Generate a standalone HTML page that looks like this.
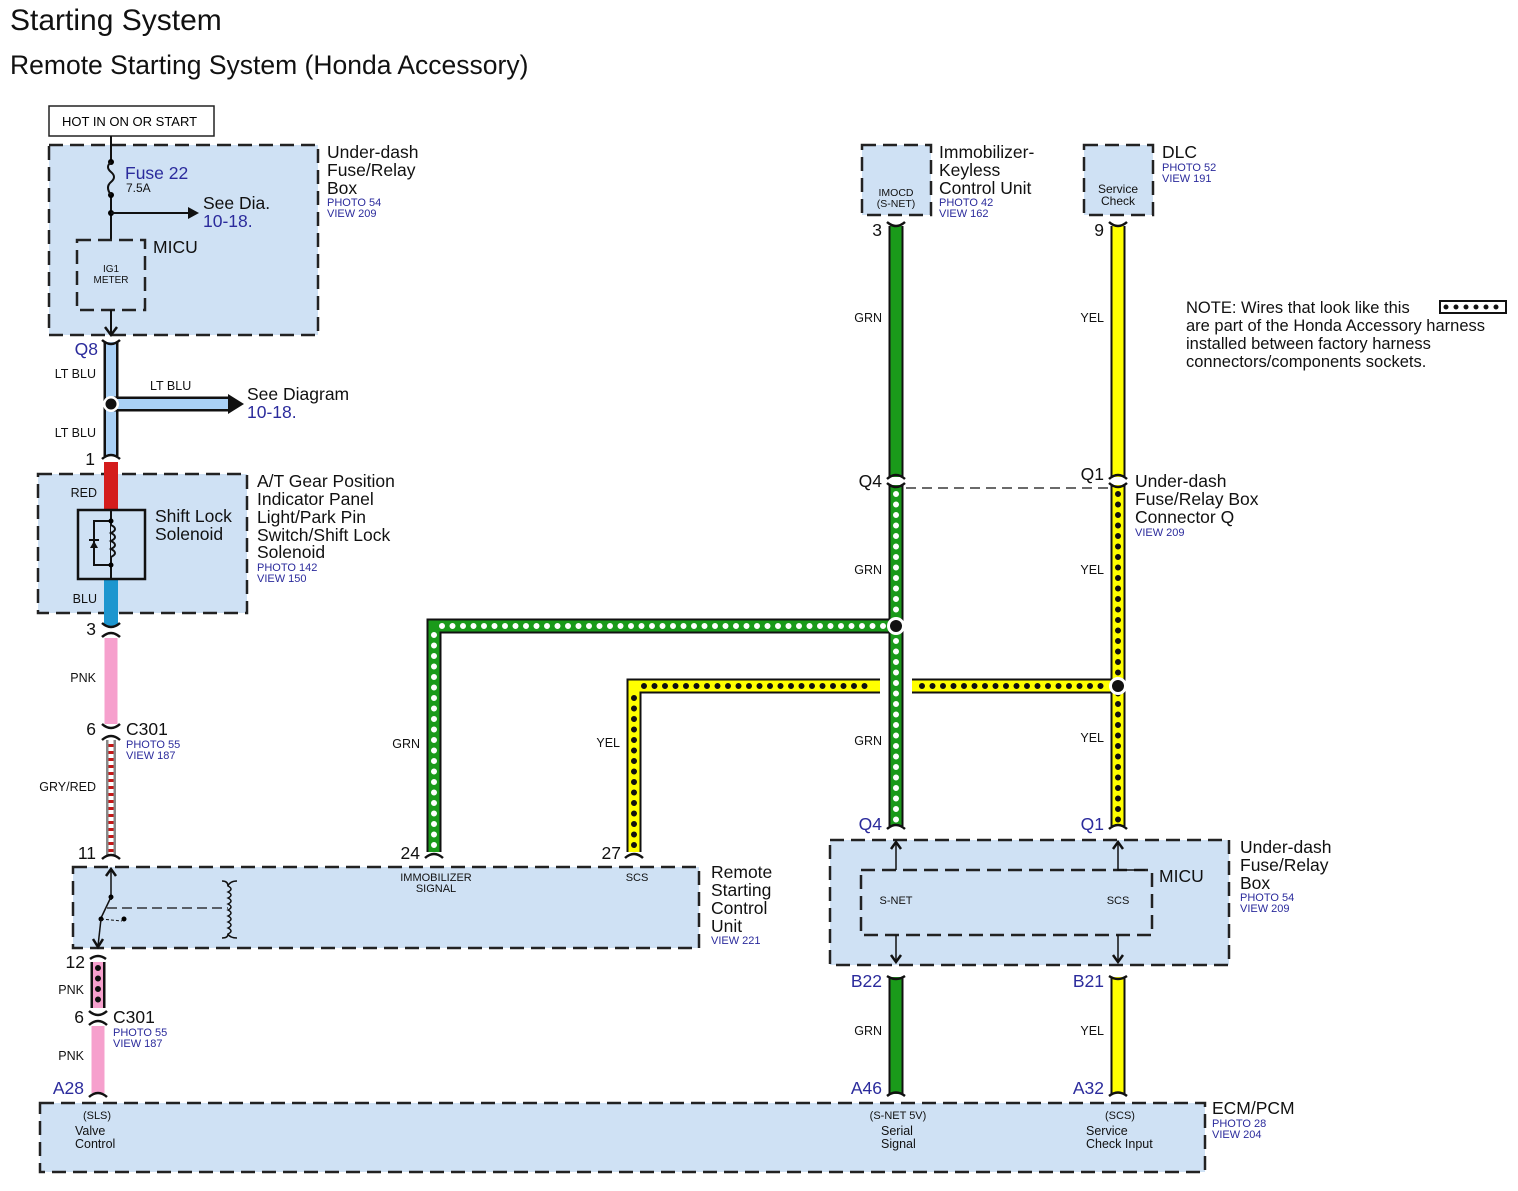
<!DOCTYPE html>
<html><head><meta charset="utf-8"><style>
body{margin:0;background:#fff}
svg{display:block;font-family:"Liberation Sans",sans-serif}
.t{font-size:17.5px;fill:#111}
.s{font-size:11px;fill:#2b2b9c}
.w{font-size:12.5px;fill:#111}
.p{font-size:11px;fill:#111}
.n{font-size:17.5px;fill:#2b2b9c}
.bx{fill:#cfe1f4;stroke:#222;stroke-width:2.5;stroke-dasharray:14 7}
.ib{fill:none;stroke:#222;stroke-width:2.5;stroke-dasharray:14 7}
.k{stroke:#111;stroke-width:15;fill:none}
.wd{stroke-width:6;stroke-dasharray:0 10.5;stroke-linecap:round;fill:none}
.c{fill:none;stroke:#111;stroke-width:2.5}
</style></head><body>
<svg width="1518" height="1191" viewBox="0 0 1518 1191">
<text x="10" y="30" style="font-size:30px" fill="#111">Starting System</text>
<text x="10" y="74" style="font-size:26.5px" fill="#111">Remote Starting System (Honda Accessory)</text>

<rect x="49" y="106" width="165" height="30" fill="#fff" stroke="#222" stroke-width="1.5"/>
<text x="62" y="126" style="font-size:13px">HOT IN ON OR START</text>

<rect class="bx" x="49" y="145" width="269" height="190"/>
<line x1="111" y1="136" x2="111" y2="240" stroke="#111" stroke-width="2"/>
<rect x="100" y="162" width="22" height="32" fill="#cfe1f4"/>
<circle cx="111" cy="162" r="3"/><circle cx="111" cy="195" r="3"/><circle cx="111" cy="213" r="3"/>
<path d="M111 162 q-6 5 0 10 q6 5 0 10 q-6 5 0 13" fill="none" stroke="#111" stroke-width="2"/>
<line x1="111" y1="213" x2="188" y2="213" stroke="#111" stroke-width="2"/>
<polygon points="188,207 199,213 188,219" fill="#111"/>
<text x="125" y="179" class="n">Fuse 22</text>
<text x="126" y="192" style="font-size:12px" fill="#111">7.5A</text>
<text x="203" y="209" class="t">See Dia.</text>
<text x="203" y="227" class="n">10-18.</text>
<rect class="ib" x="77" y="240" width="68" height="70"/>
<text x="153" y="253" class="t">MICU</text>
<text x="111" y="272" class="p" text-anchor="middle" style="font-size:10px">IG1</text>
<text x="111" y="283" class="p" text-anchor="middle" style="font-size:10px">METER</text>
<line x1="111" y1="310" x2="111" y2="335" stroke="#111" stroke-width="2"/>
<path d="M105 327 L111 335 L117 327" class="c" stroke-width="1.5"/>
<text x="327" y="158" class="t">Under-dash</text>
<text x="327" y="176" class="t">Fuse/Relay</text>
<text x="327" y="194" class="t">Box</text>
<text x="327" y="206" class="s">PHOTO 54</text>
<text x="327" y="217" class="s">VIEW 209</text>

<line class="k" x1="111" y1="342" x2="111" y2="456"/>
<line x1="111" y1="342" x2="111" y2="456" stroke="#a9d0f5" stroke-width="10"/>
<line class="k" x1="111" y1="404" x2="230" y2="404"/>
<line x1="111" y1="404" x2="230" y2="404" stroke="#a9d0f5" stroke-width="10"/>
<polygon points="228,394 244,404 228,414" fill="#111"/>
<circle cx="111" cy="404" r="8" fill="#fff"/><circle cx="111" cy="404" r="5.5" fill="#111"/>
<path class="c" d="M102 340 Q111 348 120 340"/>
<path class="c" d="M102 459 Q111 451 120 459"/>
<text x="98" y="355" class="n" text-anchor="end">Q8</text>
<text x="96" y="378" class="w" text-anchor="end">LT BLU</text>
<text x="150" y="390" class="w">LT BLU</text>
<text x="96" y="437" class="w" text-anchor="end">LT BLU</text>
<text x="247" y="400" class="t">See Diagram</text>
<text x="247" y="418" class="n">10-18.</text>
<text x="95" y="465" class="t" text-anchor="end">1</text>

<rect class="bx" x="38" y="474" width="209" height="139"/>
<line x1="111" y1="462" x2="111" y2="512" stroke="#d41c1c" stroke-width="14"/>
<line x1="111" y1="578" x2="111" y2="626" stroke="#1d96cf" stroke-width="14"/>
<rect x="78" y="510" width="67" height="69" fill="#cfe1f4" stroke="#111" stroke-width="2.5"/>
<line x1="111" y1="510" x2="111" y2="579" stroke="#111" stroke-width="2"/>
<rect x="94" y="521" width="17" height="44" fill="none" stroke="#111" stroke-width="2"/>
<path d="M111 525 q8 4 0 8 q8 4 0 8 q8 4 0 8 q8 4 0 8" fill="#cfe1f4" stroke="#111" stroke-width="2"/>
<polygon points="90,548 98,548 94,541" fill="#111"/><line x1="89" y1="540" x2="99" y2="540" stroke="#111" stroke-width="2"/>
<circle cx="111" cy="521" r="2.5"/><circle cx="111" cy="565" r="2.5"/>
<text x="155" y="522" class="t">Shift Lock</text>
<text x="155" y="540" class="t">Solenoid</text>
<text x="97" y="497" class="w" text-anchor="end">RED</text>
<text x="97" y="603" class="w" text-anchor="end">BLU</text>
<text x="257" y="487" class="t">A/T Gear Position</text>
<text x="257" y="505" class="t">Indicator Panel</text>
<text x="257" y="523" class="t">Light/Park Pin</text>
<text x="257" y="541" class="t">Switch/Shift Lock</text>
<text x="257" y="558" class="t">Solenoid</text>
<text x="257" y="571" class="s">PHOTO 142</text>
<text x="257" y="582" class="s">VIEW 150</text>

<path class="c" d="M102 623 Q111 631 120 623"/>
<path class="c" d="M102 637 Q111 629 120 637"/>
<text x="96" y="635" class="t" text-anchor="end">3</text>
<line x1="111" y1="638" x2="111" y2="724" stroke="#f6a0cd" stroke-width="13"/>
<text x="96" y="682" class="w" text-anchor="end">PNK</text>
<path class="c" d="M102 724 Q111 732 120 724"/>
<path class="c" d="M102 740 Q111 732 120 740"/>
<text x="96" y="735" class="t" text-anchor="end">6</text>
<text x="126" y="735" class="t">C301</text>
<text x="126" y="748" class="s">PHOTO 55</text>
<text x="126" y="759" class="s">VIEW 187</text>
<line x1="111" y1="740" x2="111" y2="855" stroke="#888" stroke-width="10"/>
<line x1="111" y1="740" x2="111" y2="855" stroke="#fff" stroke-width="5"/>
<line x1="111" y1="744" x2="111" y2="855" stroke="#c41818" stroke-width="5" stroke-dasharray="3 4"/>
<text x="96" y="791" class="w" text-anchor="end">GRY/RED</text>
<path class="c" d="M102 859 Q111 851 120 859"/>
<text x="96" y="859" class="t" text-anchor="end">11</text>

<rect class="bx" x="73" y="867" width="626" height="81"/>
<line x1="111" y1="868" x2="111" y2="900" stroke="#111" stroke-width="1.5"/>
<path d="M106 876 L111 869 L116 876" class="c" stroke-width="1.5"/>
<circle cx="111" cy="897" r="2.5"/>
<line x1="111" y1="897" x2="101" y2="918" stroke="#111" stroke-width="1.5"/>
<circle cx="101" cy="919" r="2.5"/><circle cx="124" cy="919" r="2.5"/>
<line x1="101" y1="919" x2="122" y2="921" stroke="#111" stroke-width="1" stroke-dasharray="3 2"/>
<line x1="101" y1="919" x2="98" y2="946" stroke="#111" stroke-width="1.5"/>
<path d="M93 939 L98 947 L103 939" class="c" stroke-width="1.5"/>
<line x1="107" y1="908" x2="228" y2="908" stroke="#111" stroke-width="1.2" stroke-dasharray="10 5"/>
<path d="M222 881 Q228 881 228 886 q6 3 0 6 q6 3 0 6 q6 3 0 6 q6 3 0 6 q6 3 0 6 q6 3 0 6 q6 3 0 6 q6 3 0 6 Q228 938 222 938" fill="none" stroke="#111" stroke-width="1.5"/>
<path d="M228 886 Q230 881 237 881 M228 934 Q230 938 237 938" fill="none" stroke="#111" stroke-width="1.5"/>
<text x="436" y="881" class="p" text-anchor="middle">IMMOBILIZER</text>
<text x="436" y="892" class="p" text-anchor="middle">SIGNAL</text>
<text x="637" y="881" class="p" text-anchor="middle">SCS</text>
<text x="711" y="878" class="t">Remote</text>
<text x="711" y="896" class="t">Starting</text>
<text x="711" y="914" class="t">Control</text>
<text x="711" y="932" class="t">Unit</text>
<text x="711" y="944" class="s">VIEW 221</text>

<path class="c" d="M90 959 Q98 953 106 959"/>
<text x="85" y="968" class="t" text-anchor="end">12</text>
<line class="k" x1="98" y1="962" x2="98" y2="1008" stroke-width="14"/>
<line x1="98" y1="962" x2="98" y2="1008" stroke="#f6a0cd" stroke-width="10"/>
<line x1="98" y1="968" x2="98" y2="1008" class="wd" stroke="#111" stroke-dasharray="0 9.5"/>
<text x="84" y="994" class="w" text-anchor="end">PNK</text>
<path class="c" d="M89 1011 Q98 1019 107 1011"/>
<path class="c" d="M89 1025 Q98 1017 107 1025"/>
<text x="84" y="1023" class="t" text-anchor="end">6</text>
<text x="113" y="1023" class="t">C301</text>
<text x="113" y="1036" class="s">PHOTO 55</text>
<text x="113" y="1047" class="s">VIEW 187</text>
<line x1="98" y1="1026" x2="98" y2="1093" stroke="#f6a0cd" stroke-width="13"/>
<text x="84" y="1060" class="w" text-anchor="end">PNK</text>
<path class="c" d="M89 1097 Q98 1089 107 1097"/>
<text x="84" y="1094" class="n" text-anchor="end">A28</text>

<rect class="bx" x="40" y="1103" width="1165" height="69"/>
<text x="97" y="1119" class="p" text-anchor="middle">(SLS)</text>
<text x="75" y="1135" style="font-size:12.5px" fill="#111">Valve</text>
<text x="75" y="1148" style="font-size:12.5px" fill="#111">Control</text>
<text x="898" y="1119" class="p" text-anchor="middle">(S-NET 5V)</text>
<text x="881" y="1135" style="font-size:12.5px" fill="#111">Serial</text>
<text x="881" y="1148" style="font-size:12.5px" fill="#111">Signal</text>
<text x="1120" y="1119" class="p" text-anchor="middle">(SCS)</text>
<text x="1086" y="1135" style="font-size:12.5px" fill="#111">Service</text>
<text x="1086" y="1148" style="font-size:12.5px" fill="#111">Check Input</text>
<text x="1212" y="1114" class="t">ECM/PCM</text>
<text x="1212" y="1127" class="s">PHOTO 28</text>
<text x="1212" y="1138" class="s">VIEW 204</text>

<path class="k" d="M434 852 V626 H896"/>
<path d="M434 852 V626 H896" fill="none" stroke="#1a9a1a" stroke-width="11"/>
<path d="M434 845 V632" class="wd" stroke="#fff"/>
<path d="M442 626 H888" class="wd" stroke="#fff"/>
<path class="c" d="M425 858 Q434 850 443 858"/>
<text x="420" y="859" class="t" text-anchor="end">24</text>
<text x="420" y="748" class="w" text-anchor="end">GRN</text>

<path class="k" d="M634 852 V686 H880"/>
<path d="M634 852 V686 H880" fill="none" stroke="#ffff00" stroke-width="11"/>
<path d="M634 845 V692" class="wd" stroke="#111"/>
<path d="M644 686 H872" class="wd" stroke="#111"/>
<path class="k" d="M912 686 H1118"/>
<path d="M912 686 H1118" stroke="#ffff00" stroke-width="11"/>
<path d="M922 686 H1108" class="wd" stroke="#111"/>
<path class="c" d="M625 858 Q634 850 643 858"/>
<text x="621" y="859" class="t" text-anchor="end">27</text>
<text x="620" y="747" class="w" text-anchor="end">YEL</text>

<rect class="bx" x="862" y="145" width="69" height="70"/>
<text x="896" y="196" class="p" text-anchor="middle" style="font-size:10.5px">IMOCD</text>
<text x="896" y="207" class="p" text-anchor="middle" style="font-size:10.5px">(S-NET)</text>
<text x="939" y="158" class="t">Immobilizer-</text>
<text x="939" y="176" class="t">Keyless</text>
<text x="939" y="194" class="t">Control Unit</text>
<text x="939" y="206" class="s">PHOTO 42</text>
<text x="939" y="217" class="s">VIEW 162</text>
<rect class="bx" x="1084" y="145" width="69" height="70"/>
<text x="1118" y="193" class="p" text-anchor="middle" style="font-size:12px">Service</text>
<text x="1118" y="205" class="p" text-anchor="middle" style="font-size:12px">Check</text>
<text x="1162" y="158" class="t">DLC</text>
<text x="1162" y="171" class="s">PHOTO 52</text>
<text x="1162" y="182" class="s">VIEW 191</text>

<line class="k" x1="896" y1="226" x2="896" y2="826"/>
<line x1="896" y1="226" x2="896" y2="826" stroke="#1a9a1a" stroke-width="11"/>
<line x1="896" y1="494" x2="896" y2="820" class="wd" stroke="#fff"/>
<path class="c" d="M887 222 Q896 230 905 222"/>
<text x="882" y="236" class="t" text-anchor="end">3</text>
<text x="882" y="322" class="w" text-anchor="end">GRN</text>
<rect x="885" y="477" width="22" height="8" fill="#fff"/>
<path class="c" d="M887 479 Q896 471 905 479"/>
<path class="c" d="M887 483 Q896 491 905 483"/>
<text x="882" y="487" class="t" text-anchor="end">Q4</text>
<text x="882" y="574" class="w" text-anchor="end">GRN</text>
<text x="882" y="745" class="w" text-anchor="end">GRN</text>
<path class="c" d="M887 829 Q896 821 905 829"/>
<text x="882" y="830" class="n" text-anchor="end">Q4</text>
<circle cx="896" cy="626" r="9" fill="#fff"/><circle cx="896" cy="626" r="6" fill="#111"/>

<line class="k" x1="1118" y1="226" x2="1118" y2="826"/>
<line x1="1118" y1="226" x2="1118" y2="826" stroke="#ffff00" stroke-width="11"/>
<line x1="1118" y1="494" x2="1118" y2="820" class="wd" stroke="#111"/>
<path class="c" d="M1109 222 Q1118 230 1127 222"/>
<text x="1104" y="236" class="t" text-anchor="end">9</text>
<text x="1104" y="322" class="w" text-anchor="end">YEL</text>
<rect x="1107" y="477" width="22" height="8" fill="#fff"/>
<path class="c" d="M1109 479 Q1118 471 1127 479"/>
<path class="c" d="M1109 483 Q1118 491 1127 483"/>
<text x="1104" y="480" class="t" text-anchor="end">Q1</text>
<text x="1104" y="574" class="w" text-anchor="end">YEL</text>
<text x="1104" y="742" class="w" text-anchor="end">YEL</text>
<path class="c" d="M1109 829 Q1118 821 1127 829"/>
<text x="1104" y="830" class="n" text-anchor="end">Q1</text>
<circle cx="1118" cy="686" r="9" fill="#fff"/><circle cx="1118" cy="686" r="6" fill="#111"/>
<line x1="906" y1="488" x2="1108" y2="488" stroke="#111" stroke-width="1.3" stroke-dasharray="10 6"/>
<text x="1135" y="487" class="t">Under-dash</text>
<text x="1135" y="505" class="t">Fuse/Relay Box</text>
<text x="1135" y="523" class="t">Connector Q</text>
<text x="1135" y="536" class="s">VIEW 209</text>

<text x="1186" y="313" class="t" style="font-size:16.5px">NOTE: Wires that look like this</text>
<rect x="1440" y="301" width="66" height="12" fill="#fff" stroke="#111" stroke-width="2"/>
<line x1="1446" y1="307" x2="1502" y2="307" stroke="#111" stroke-width="5" stroke-dasharray="0 10" stroke-linecap="round"/>
<text x="1186" y="331" class="t" style="font-size:16.5px">are part of the Honda Accessory harness</text>
<text x="1186" y="349" class="t" style="font-size:16.5px">installed between factory harness</text>
<text x="1186" y="367" class="t" style="font-size:16.5px">connectors/components sockets.</text>

<rect class="bx" x="830" y="840" width="399" height="125"/>
<rect class="ib" x="861" y="870" width="291" height="65"/>
<line x1="896" y1="842" x2="896" y2="870" stroke="#111" stroke-width="1.5"/>
<path d="M891 849 L896 842 L901 849" class="c" stroke-width="1.5"/>
<path d="M1118 842 V870 H1145" fill="none" stroke="#111" stroke-width="1.5"/>
<path d="M1113 849 L1118 842 L1123 849" class="c" stroke-width="1.5"/>
<line x1="896" y1="935" x2="896" y2="962" stroke="#111" stroke-width="1.5"/>
<path d="M891 955 L896 962 L901 955" class="c" stroke-width="1.5"/>
<line x1="1118" y1="935" x2="1118" y2="962" stroke="#111" stroke-width="1.5"/>
<path d="M1113 955 L1118 962 L1123 955" class="c" stroke-width="1.5"/>
<text x="896" y="904" class="p" text-anchor="middle">S-NET</text>
<text x="1118" y="904" class="p" text-anchor="middle">SCS</text>
<text x="1159" y="882" class="t">MICU</text>
<text x="1240" y="853" class="t">Under-dash</text>
<text x="1240" y="871" class="t">Fuse/Relay</text>
<text x="1240" y="889" class="t">Box</text>
<text x="1240" y="901" class="s">PHOTO 54</text>
<text x="1240" y="912" class="s">VIEW 209</text>

<line class="k" x1="896" y1="977" x2="896" y2="1094"/>
<line x1="896" y1="977" x2="896" y2="1094" stroke="#1a9a1a" stroke-width="11"/>
<path class="c" d="M887 976 Q896 982 905 976"/>
<path class="c" d="M887 1096 Q896 1089 905 1096"/>
<text x="882" y="987" class="n" text-anchor="end">B22</text>
<text x="882" y="1035" class="w" text-anchor="end">GRN</text>
<text x="882" y="1094" class="n" text-anchor="end">A46</text>
<line class="k" x1="1118" y1="977" x2="1118" y2="1094"/>
<line x1="1118" y1="977" x2="1118" y2="1094" stroke="#ffff00" stroke-width="11"/>
<path class="c" d="M1109 976 Q1118 982 1127 976"/>
<path class="c" d="M1109 1096 Q1118 1089 1127 1096"/>
<text x="1104" y="987" class="n" text-anchor="end">B21</text>
<text x="1104" y="1035" class="w" text-anchor="end">YEL</text>
<text x="1104" y="1094" class="n" text-anchor="end">A32</text>
</svg>
</body></html>
